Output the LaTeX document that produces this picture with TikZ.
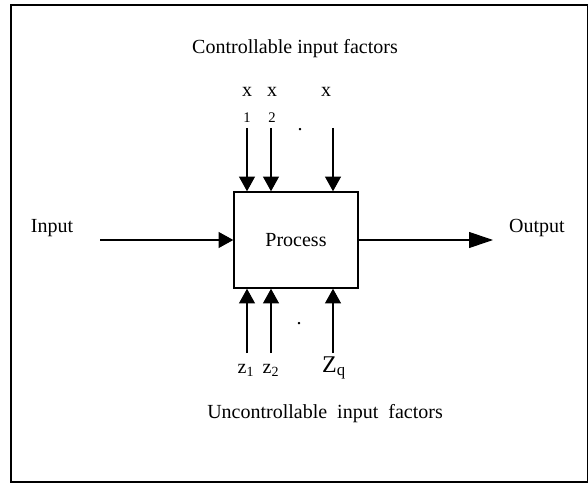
\documentclass[tikz,border=0pt]{standalone}
\usepackage{fontspec}
\setmainfont{Liberation Serif}
\usetikzlibrary{arrows.meta}
\begin{document}
\begin{tikzpicture}[x=0.75pt, y=-0.75pt,
    frame/.style={draw, line width=1.3pt},
    procbox/.style={rectangle, draw, line width=1.1pt, minimum width=93pt, minimum height=72pt, font=\fontsize{15}{18}\selectfont},
    label/.style={font=\fontsize{15}{18}\selectfont},
    sublabel/.style={font=\fontsize{11}{13}\selectfont},
    arrow/.style={-{Triangle[length=11pt, width=12pt]}, line width=0.8pt},
    longarrow/.style={-{Triangle[length=18pt, width=12pt]}, line width=0.8pt}
]
    \useasboundingbox (0,0) rectangle (588,484);
    % Outer frame
    \draw[frame] (11,5) rectangle (588,482);

    % Process block
    \node[procbox] (proc) at (296,240) {Process};

    % Controllable factors (top)
    \node[label] (ctrl) at (295,49) {Controllable input factors};
    \node[label] (x1) at (247,92) {x};
    \node[label] (x2) at (272,92) {x};
    \node[label] (xp) at (326,92) {x};
    \node[sublabel] (x1sub) at (247,118) {1};
    \node[sublabel] (x2sub) at (272,118) {2};
    \node[label, anchor=base] (xdots) at (300,131) {.};
    \coordinate (x1top) at (247,128);
    \coordinate (x2top) at (271,128);
    \coordinate (xptop) at (333,128);
    \draw[arrow] (x1top) -- (x1top |- proc.north);
    \draw[arrow] (x2top) -- (x2top |- proc.north);
    \draw[arrow] (xptop) -- (xptop |- proc.north);

    % Uncontrollable factors (bottom)
    \coordinate (z1bot) at (247,353);
    \coordinate (z2bot) at (271,353);
    \coordinate (zqbot) at (333,353);
    \draw[arrow] (z1bot) -- (z1bot |- proc.south);
    \draw[arrow] (z2bot) -- (z2bot |- proc.south);
    \draw[arrow] (zqbot) -- (zqbot |- proc.south);
    \node[label, anchor=base] (zdots) at (299,325) {.};
    \node[label] (z1) at (246,370) {z\textsubscript{1}};
    \node[label] (z2) at (271,370) {z\textsubscript{2}};
    \node[label] (zq) at (334,368) {\fontsize{18}{20}\selectfont Z\textsubscript{q}};
    \node[label] (unctrl) at (325,414) {Uncontrollable\ \ input\ \ factors};

    % Input and output
    \node[label] (in) at (52,228) {Input};
    \coordinate (instart) at (100,240);
    \draw[arrow] (instart) -- (proc.west);
    \node[label] (out) at (537,228) {Output};
    \coordinate (outend) at (493,240);
    \draw[longarrow] (proc.east) -- (outend);
\end{tikzpicture}
\end{document}
